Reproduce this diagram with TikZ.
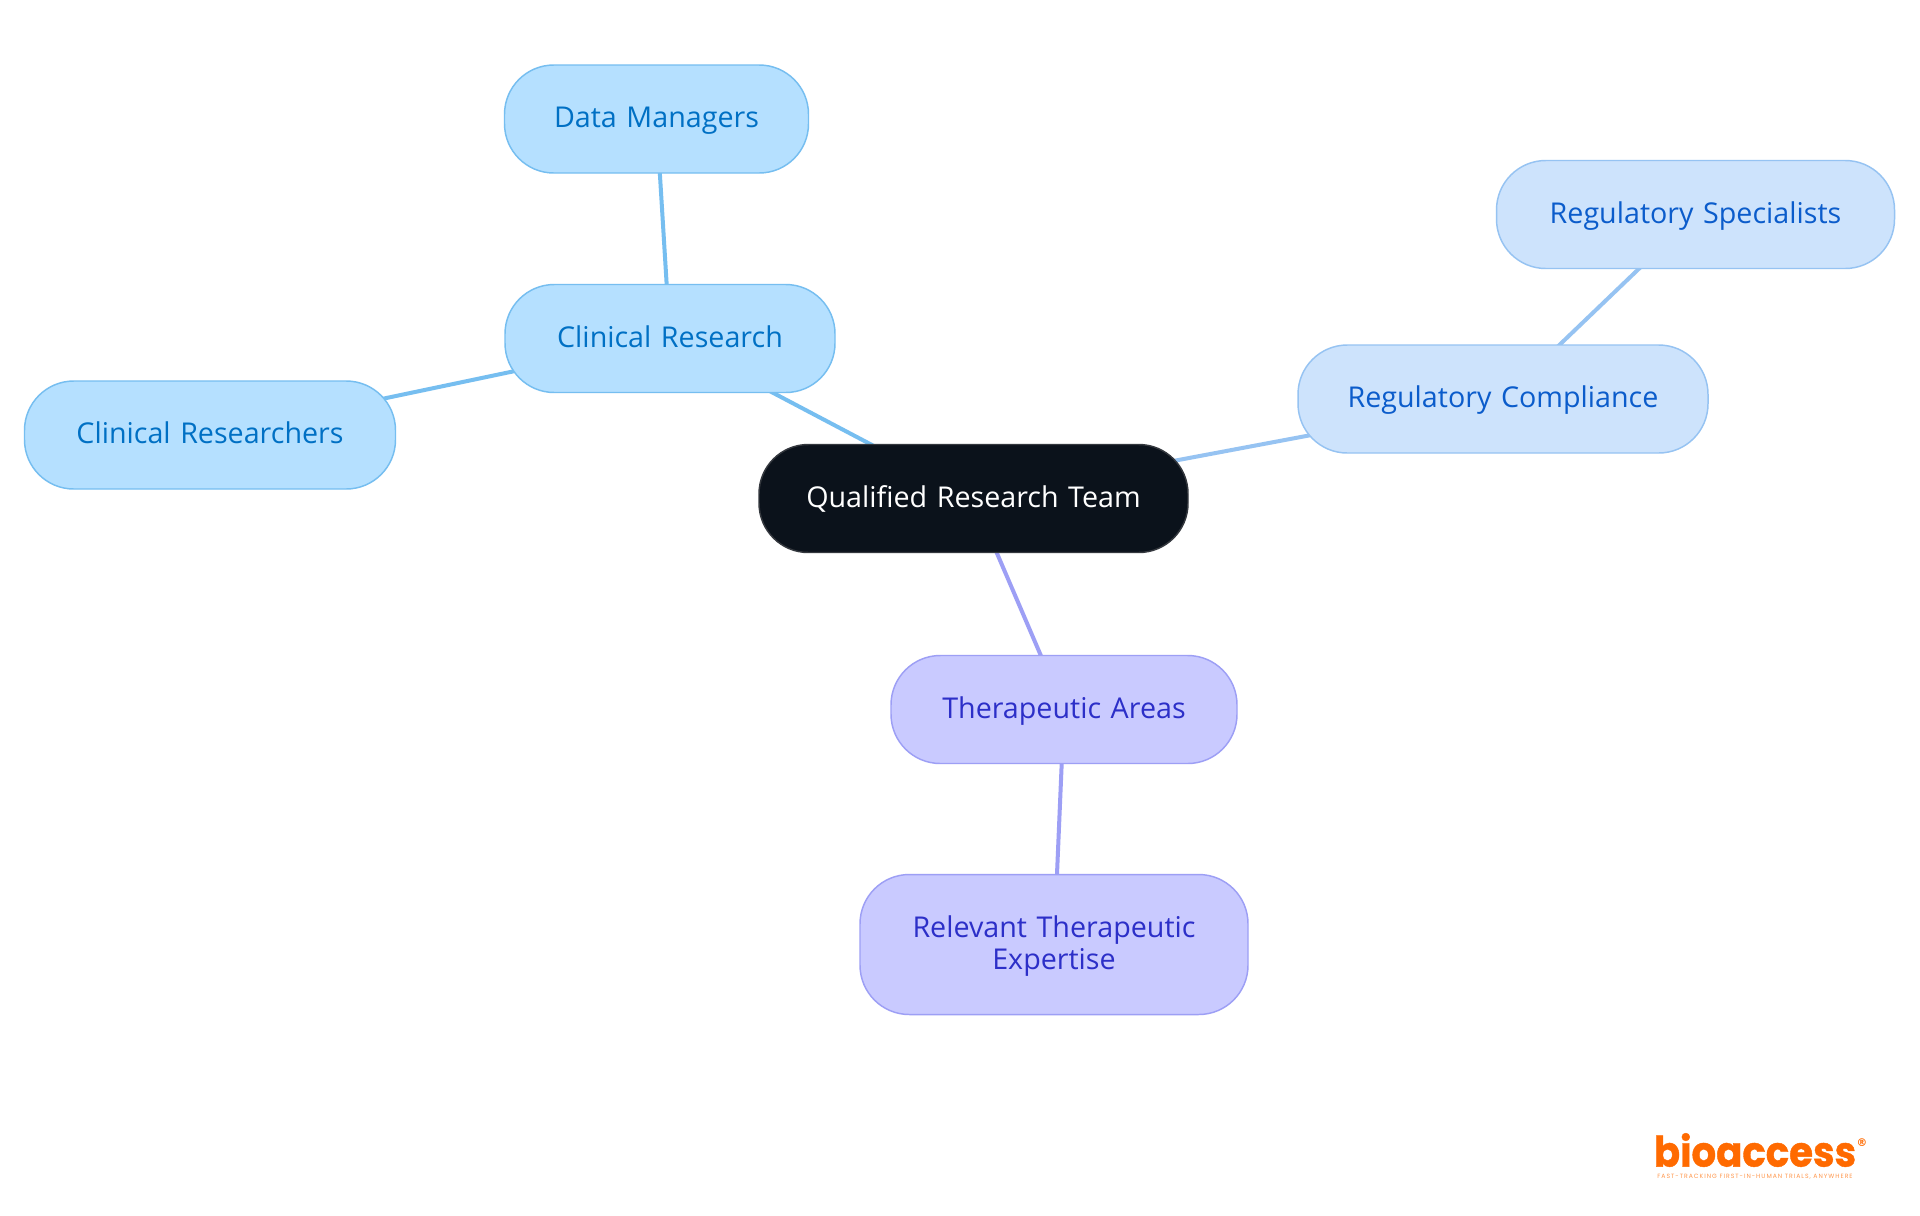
\documentclass[tikz,border=0pt]{standalone}
\usepackage{fontspec}
\setmainfont[WordSpace=0.72]{Open Sans}
\newfontfamily\logofont[FakeBold=1]{Poppins}
\newfontfamily\regfont{DejaVu Sans}
\newfontfamily\tagfont[LetterSpace=16]{Poppins}
\usetikzlibrary{backgrounds,calc}
\definecolor{cyanfill}{HTML}{B5E0FF}
\definecolor{cyanline}{HTML}{76BEF0}
\definecolor{cyantext}{HTML}{0070C4}
\definecolor{skyfill}{HTML}{CDE3FC}
\definecolor{skyline}{HTML}{96C3F2}
\definecolor{skytext}{HTML}{0B5CCB}
\definecolor{violetfill}{HTML}{C9CAFF}
\definecolor{violetline}{HTML}{9D9FF5}
\definecolor{violettext}{HTML}{2C2FC8}
\definecolor{rootfill}{HTML}{0B121B}
\definecolor{rootline}{HTML}{34383E}
\definecolor{logoorange}{HTML}{FF6A00}
\newcommand{\linestrut}{\vrule height 18.5pt depth 5.2pt width 0pt\relax}
\tikzset{
  x=0.75pt,y=-0.75pt,
  mapnode/.style n args={2}{draw,line width=1.1pt,rounded corners=37pt,inner sep=0pt,align=center,
     font=\fontsize{21.5pt}{24pt}\selectfont,minimum height=#2*0.75pt,text width=#1*0.75pt,
     execute at begin node=\linestrut,execute at end node=\linestrut},
  cyannode/.style={fill=cyanfill,draw=cyanline,text=cyantext},
  skynode/.style={fill=skyfill,draw=skyline,text=skytext},
  violetnode/.style={fill=violetfill,draw=violetline,text=violettext},
  rootnode/.style={fill=rootfill,draw=rootline,text=white},
  link/.style={line width=3pt}
}
\begin{document}
\begin{tikzpicture}
\useasboundingbox (0,0) rectangle (1920,1215);
\node[mapnode={429}{108},rootnode] (root) at (973.5,498.5) {Qualified Research Team};
\node[mapnode={330}{108},cyannode] (cr) at (670,338.5) {Clinical Research};
\node[mapnode={304}{108},cyannode] (dm) at (656.5,119) {Data Managers};
\node[mapnode={371}{108},cyannode] (crs) at (210,435) {Clinical Researchers};
\node[mapnode={410}{108},skynode] (rc) at (1503,399) {Regulatory Compliance};
\node[mapnode={398}{108},skynode] (rs) at (1695.5,214.5) {Regulatory Specialists};
\node[mapnode={346}{108},violetnode] (ta) at (1064,709.5) {Therapeutic Areas};
\node[mapnode={388}{140},violetnode] (rte) at (1054,944.5) {Relevant Therapeutic\\Expertise};
\begin{scope}[on background layer]
\fill[white] (0,0) rectangle (1920,1215);
\draw[link,cyanline] (root.center) -- (cr.center);
\draw[link,cyanline] (cr.center) -- (dm.center);
\draw[link,cyanline] (cr.center) -- (crs.center);
\draw[link,skyline] (root.center) -- (rc.center);
\draw[link,skyline] (rc.center) -- (rs.center);
\draw[link,violetline] (root.center) -- (ta.center);
\draw[link,violetline] (ta.center) -- (rte.center);
\end{scope}
\node[inner sep=0pt,yscale=1.08,text=logoorange,font=\logofont\bfseries\fontsize{29pt}{29pt}\selectfont] (logo) at (1755,1150) {bioaccess};
\node[inner sep=0pt,text=logoorange,font=\regfont\bfseries\fontsize{8pt}{8pt}\selectfont] (reg) at (1862,1143) {®};
\node[inner sep=0pt,text=logoorange!70,font=\tagfont\fontsize{4.6pt}{5pt}\selectfont] (tag) at (1755,1177) {FAST-TRACKING FIRST-IN-HUMAN TRIALS, ANYWHERE};
\end{tikzpicture}
\end{document}
